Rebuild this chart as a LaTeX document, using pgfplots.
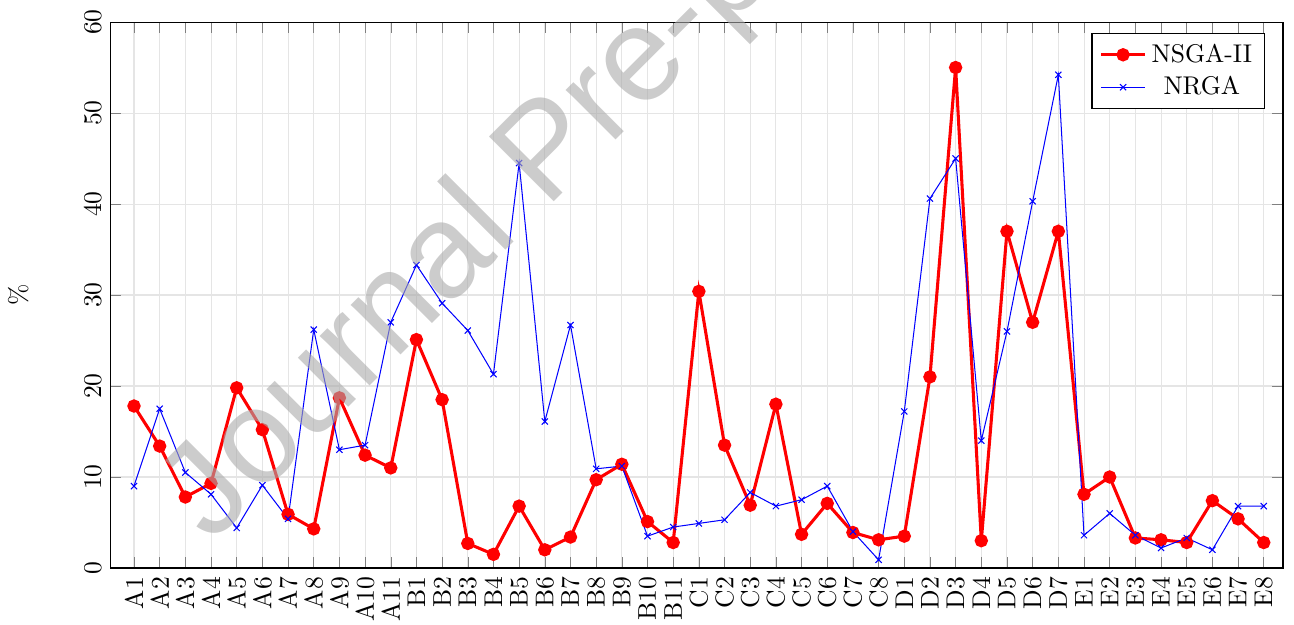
\documentclass[border=0pt]{standalone}
\usepackage{fontspec}
\newfontfamily\wmfont{Liberation Sans}
\usepackage{pgfplots}
\usepackage{pgfplotstable}
\pgfplotsset{compat=1.18}
\usetikzlibrary{calc}

\pgfplotstableread{
x y
0 17.8
1 13.4
2 7.8
3 9.3
4 19.8
5 15.2
6 5.9
7 4.3
8 18.7
9 12.4
10 11.0
11 25.1
12 18.5
13 2.7
14 1.5
15 6.8
16 2.0
17 3.4
18 9.7
19 11.4
20 5.1
21 2.8
22 30.4
23 13.5
24 6.9
25 18.0
26 3.7
27 7.1
28 3.9
29 3.1
30 3.5
31 21.0
32 55.0
33 3.0
34 37.0
35 27.0
36 37.0
37 8.1
38 10.0
39 3.3
40 3.1
41 2.8
42 7.4
43 5.4
44 2.8
}\nsga

\pgfplotstableread{
x y
0 9.0
1 17.5
2 10.5
3 8.1
4 4.4
5 9.1
6 5.4
7 26.2
8 13.0
9 13.5
10 27.0
11 33.3
12 29.1
13 26.1
14 21.3
15 44.5
16 16.1
17 26.7
18 10.9
19 11.2
20 3.5
21 4.5
22 4.9
23 5.3
24 8.3
25 6.8
26 7.5
27 9.0
28 4.0
29 0.9
30 17.2
31 40.6
32 45.0
33 14.0
34 26.0
35 40.3
36 54.2
37 3.6
38 6.0
39 3.6
40 2.2
41 3.3
42 2.0
43 6.8
44 6.8
}\nrga

\begin{document}
\begin{tikzpicture}
\begin{axis}[name=ax, scale only axis, width=458pt, height=213.2pt,
  xmin=-0.93, xmax=44.75, ymin=0, ymax=60, ytick={0,10,...,60},
  xtick={0,...,44},
  xticklabels={A1,A2,A3,A4,A5,A6,A7,A8,A9,A10,A11,B1,B2,B3,B4,B5,B6,B7,B8,B9,B10,B11,C1,C2,C3,C4,C5,C6,C7,C8,D1,D2,D3,D4,D5,D6,D7,E1,E2,E3,E4,E5,E6,E7,E8},
  xticklabel style={rotate=90, anchor=east},
  yticklabel style={rotate=90, anchor=south},
  ylabel={\%}, ylabel style={at={(axis description cs:-0.0784,0.5)}, anchor=center},
  grid=major, major grid style={gray!20, line width=0.4pt},
  legend style={at={(0.985,0.98)}, anchor=north east, legend cell align=center},
  ]
\addplot[red, line width=1.2pt, mark=*, mark size=2.0pt] table[x=x,y=y] {\nsga};
\addplot[blue, line width=0.4pt, mark=x, mark size=1.7pt] table[x=x,y=y] {\nrga};
\legend{NSGA-II, NRGA}
\end{axis}
\path (ax.south west) ++(39.4pt,9pt) node[overlay, anchor=base west, rotate=45, inner sep=0pt,
  font=\wmfont\fontsize{52}{58}\selectfont, text={rgb,255:red,170;green,170;blue,170}, text opacity=0.6] {Journal Pre-proof};
\pgfresetboundingbox
\path[use as bounding box] ($(ax.south west)+(-43pt,-21.9pt)$) rectangle ($(ax.north east)+(4.3pt,8.6pt)$);
\end{tikzpicture}
\end{document}
